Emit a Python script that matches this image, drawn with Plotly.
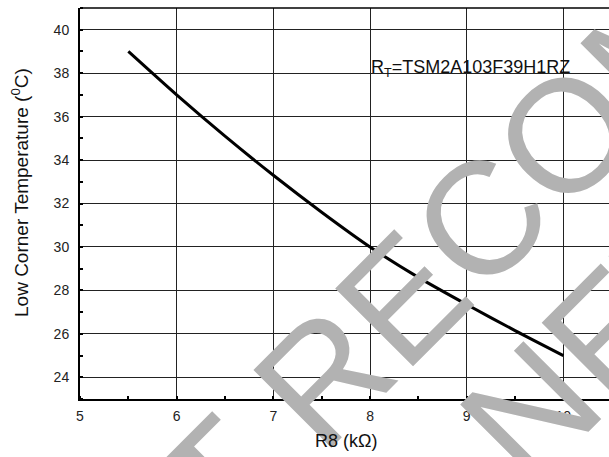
import plotly.graph_objects as go

# Data
r8_kohm = [5.5, 6.0, 6.5, 7.0, 7.5, 8.0, 8.5, 9.0, 9.5, 10.0]
low_corner_temp = [39.0, 37.0, 35.1, 33.3, 31.6, 30.0, 28.6, 27.35, 26.15, 25.0]

x_ticks = [5, 6, 7, 8, 9, 10]
y_ticks = [24, 26, 28, 30, 32, 34, 36, 38, 40]
x_range = [5, 10.472]
y_range = [23, 41]

label_text = "R<sub>T</sub>=TSM2A103F39H1RZ"
watermark_lines = ["NOT RECOMMENDED", "FOR NEW DESIGN"]

FONT = "Liberation Sans, Arial, sans-serif"
W, H = 609, 457
ML, MR, MT, MB = 80, 0, 8, 58
PW = W - ML - MR
PH = H - MT - MB


def px_to_paper(px, py):
    return (px - ML) / PW, (H - MB - py) / PH


fig = go.Figure()
fig.add_trace(go.Scatter(
    x=r8_kohm, y=low_corner_temp, mode="lines",
    line=dict(color="black", width=3, shape="spline", smoothing=0.8),
    showlegend=False, hoverinfo="skip"))

axis_common = dict(
    showline=True, linecolor="black", linewidth=2,
    showgrid=True, gridcolor="#222222", gridwidth=1,
    zeroline=False, ticks="", tickfont=dict(family=FONT, size=14, color="#222"),
)

fig.update_xaxes(range=x_range, tickvals=x_ticks, ticktext=[str(v) for v in x_ticks],
                 minor=dict(dtick=0.5, ticks="inside", ticklen=3, tickwidth=1.5,
                            tickcolor="black", showgrid=False),
                 ticklabelstandoff=3,
                 **axis_common)
fig.update_yaxes(range=y_range, tickvals=y_ticks, ticktext=[str(v) for v in y_ticks],
                 minor=dict(dtick=1, ticks="inside", ticklen=3, tickwidth=1.5,
                            tickcolor="black", showgrid=False),
                 ticklabelstandoff=6,
                 **axis_common)

shapes = [
    # top frame line
    dict(type="line", xref="paper", yref="paper", x0=0, x1=1, y0=1, y1=1,
         line=dict(color="black", width=1.5), layer="above"),
]
bx0, by0 = px_to_paper(352, 88)
bx1, by1 = px_to_paper(589, 33)
shapes.append(dict(type="rect", xref="paper", yref="paper", x0=bx0, x1=bx1, y0=by0, y1=by1,
                   fillcolor="white", line=dict(width=0), layer="between"))

annotations = []
lx, ly = px_to_paper(470, 68)
annotations.append(dict(text=label_text, xref="paper", yref="paper", x=lx, y=ly,
                        xanchor="center", yanchor="middle", showarrow=False,
                        font=dict(family=FONT, size=18, color="#111")))

wm_centers = [(604, 96), (718, 223)]
for txt, (cx, cy) in zip(watermark_lines, wm_centers):
    wx, wy = px_to_paper(cx, cy)
    annotations.append(dict(text=txt, xref="paper", yref="paper", x=wx, y=wy,
                            xanchor="center", yanchor="middle", textangle=-45,
                            showarrow=False,
                            font=dict(family=FONT, size=160, color="#b2b2b2")))

tx, ty = px_to_paper(346, 441)
annotations.append(dict(text="R8 (k\u03a9)", xref="paper", yref="paper", x=tx, y=ty,
                        xanchor="center", yanchor="middle", showarrow=False,
                        font=dict(family=FONT, size=18, color="#111")))
yx, yy = px_to_paper(20, 193)
annotations.append(dict(text="Low Corner Temperature (<sup>0</sup>C)", xref="paper", yref="paper",
                        x=yx, y=yy, xanchor="center", yanchor="middle", textangle=-90,
                        showarrow=False, font=dict(family=FONT, size=19, color="#111")))

fig.update_layout(
    width=W, height=H, margin=dict(l=ML, r=MR, t=MT, b=MB),
    paper_bgcolor="white", plot_bgcolor="white",
    shapes=shapes, annotations=annotations,
    font=dict(family=FONT),
)

fig.write_html("out.html")
